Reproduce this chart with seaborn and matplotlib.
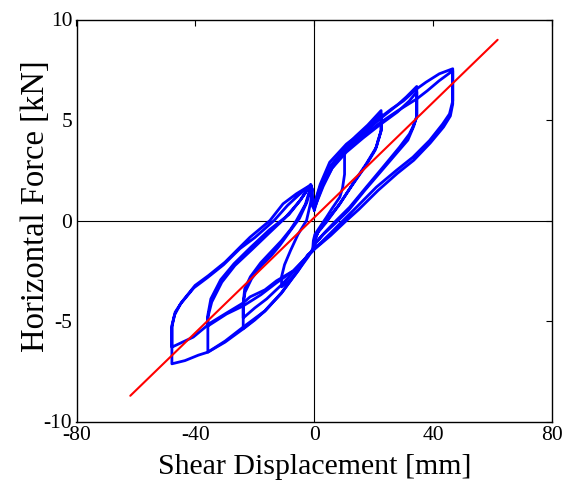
import matplotlib
matplotlib.use("Agg")
import matplotlib.pyplot as plt
import numpy as np
import pandas as pd
import seaborn as sns

# ---------------- data ----------------
x_ticks = [-80, -40, 0, 40, 80]
y_ticks = [-10, -5, 0, 5, 10]

# linear reference line (red)
red_x = [-61.9, 61.7]
red_y = [-8.72, 8.99]

# hysteresis loops (blue), one list per amplitude
loop12_x = [0, 2, 4, 6, 8, 10.2, 10.2, 9.5, 8.6, 6, 4.1, 2, 0.2, -0.3, -0.5,
            -2, -4, -6.5, -9, -11, -11, -10, -8, -5.5, -2.6, -1.2, -0.7, -0.5, 0]
loop12_y = [0.5, 1.5, 2.2, 2.7, 3.1, 3.5, 2.3, 1.6, 1.16, 0.6, 0.16, -0.3, -0.7, -1.0, -1.4,
            -1.8, -2.2, -2.7, -3.05, -3.3, -2.8, -2.2, -1.5, -0.7, 0.0, 0.9, 1.6, 0.8, 0.5]

loop23_x = [0, 2, 4, 7, 10.8, 14, 18, 22.5, 22.5, 21.5, 20.9, 17.5, 13, 8.6, 4.1, 1.5, 0, -0.5,
            -2.1, -5.4, -11, -16.6, -20, -23.9, -23.9, -23.3, -21.1, -17.7, -14.4, -11.6, -8, -5,
            -2.5, -1, -0.6,
            0, 3, 6, 9, 13, 17, 20, 22.5, 22.5, 21.8, 20.5, 17, 12.5, 8, 4, 1.2, 0, -0.5,
            -2.5, -6, -11, -16, -20, -23.9, -23.9, -23.4, -21.5, -18, -14.5, -11, -8, -6, -3,
            -1, -0.6]
loop23_y = [0.7, 1.5, 2.2, 3.0, 3.7, 4.2, 4.75, 5.47, 4.45, 4.0, 3.65, 2.82, 1.83, 0.83, 0.0, -0.5,
            -1.0, -1.5, -1.75, -2.5, -3.6, -4.5, -4.95, -5.39, -4.15, -3.57, -2.9, -2.24, -1.74,
            -1.24, -0.5, 0.1, 0.9, 1.7, 0.7,
            0.6, 1.7, 2.6, 3.2, 3.9, 4.45, 4.9, 5.3, 4.5, 4.1, 3.5, 2.65, 1.7, 0.7, -0.1, -0.6,
            -1.1, -1.5, -1.8, -2.4, -3.2, -3.9, -4.35, -4.85, -4.1, -3.4, -2.8, -2.1, -1.55, -1.0,
            -0.45, 0.0, 0.8, 1.75, 0.8]

loop35_x = [0, 2, 5.2, 10.8, 16.4, 22.5, 28, 31, 34.5, 34.5, 33, 32, 28.7, 23.1, 17.5, 11.9, 7.4,
            3.5, 0.5, -0.5, -2.1, -5.4, -11, -16.6, -23.9, -30, -35.8, -35.8, -34.5, -31.1, -26.7,
            -21, -15, -10, -5, -1.2, -0.6,
            0, 3, 6, 10.8, 16.4, 22, 28, 32, 34.5, 34.5, 33.5, 31.5, 28, 22.5, 17, 11.5, 7, 3, 0.3,
            -0.5, -3, -7, -12.7, -18, -23.9, -29.5, -35.8, -35.8, -34.8, -31.5, -27, -21.5, -15,
            -8.5, -4.5, -1.2, -0.6]
loop35_y = [0.8, 1.7, 2.7, 3.6, 4.3, 5.1, 5.75, 6.15, 6.67, 5.14, 4.6, 4.3, 3.65, 2.65, 1.66, 0.66,
            0.0, -0.6, -1.1, -1.5, -1.7, -2.45, -3.6, -4.5, -5.39, -6.05, -6.55, -4.81, -4.06,
            -3.07, -2.24, -1.45, -0.6, 0.1, 0.95, 1.75, 0.8,
            0.6, 1.8, 2.6, 3.4, 4.1, 4.75, 5.4, 5.95, 6.4, 5.2, 4.7, 4.0, 3.4, 2.45, 1.5, 0.5,
            -0.15, -0.7, -1.15, -1.5, -1.9, -2.5, -3.1, -3.7, -4.25, -4.65, -5.25, -4.7, -3.9,
            -2.95, -2.15, -1.35, -0.45, 0.3, 1.05, 1.8, 0.8]

loop47_x = [0, 2, 5.2, 10.8, 16.4, 22, 26, 30, 34.5, 37.6, 42.1, 46.6, 46.6, 45.5, 43.2, 38.8,
            33.2, 27.6, 20.9, 14.2, 9.7, 5, 1.5, -0.5, -2.1, -5.4, -11, -16.6, -23.9, -30, -35.8,
            -39, -43.5, -47.9, -47.9, -46.8, -44.6, -40.1, -35.6, -30, -24.4, -21.6, -14.9, -10.5,
            -6, -1.5, -0.6,
            0, 2, 5.2, 10.8, 16.4, 22, 28, 34.5, 38, 42, 46.6, 46.6, 45.8, 43.5, 39, 33.5, 28,
            21.5, 15, 10.5, 5.5, 1.5, -0.5, -3.8, -7, -12.7, -16.6, -21.6, -23.9, -29.5, -35,
            -40.7, -47.9, -47.9, -47, -45, -40.5, -36, -30.5, -25, -20, -13.5, -9, -5, -1.2, -0.6]
loop47_y = [0.8, 1.8, 2.9, 3.8, 4.45, 5.1, 5.55, 5.95, 6.55, 6.88, 7.3, 7.55, 5.95, 5.3, 4.8, 3.98,
            3.15, 2.49, 1.66, 0.66, 0.0, -0.7, -1.2, -1.5, -1.7, -2.45, -3.6, -4.5, -5.3, -6.0,
            -6.55, -6.7, -6.97, -7.13, -5.22, -4.56, -4.06, -3.23, -2.74, -2.07, -1.24, -0.83,
            0.0, 0.83, 1.33, 1.74, 0.8,
            0.7, 1.6, 2.6, 3.5, 4.2, 4.85, 5.45, 6.05, 6.45, 6.95, 7.45, 5.8, 5.2, 4.65, 3.85,
            3.0, 2.35, 1.5, 0.55, -0.05, -0.75, -1.25, -1.5, -2.0, -2.5, -3.0, -3.45, -3.8, -4.1,
            -4.6, -5.1, -5.8, -6.3, -5.3, -4.7, -4.15, -3.35, -2.85, -2.2, -1.4, -0.85, 0.0, 0.75,
            1.3, 1.75, 0.8]

# ---------------- build table ----------------
frames = []
for name, xs, ys in [("12", loop12_x, loop12_y), ("23", loop23_x, loop23_y),
                     ("35", loop35_x, loop35_y), ("47", loop47_x, loop47_y)]:
    frames.append(pd.DataFrame({"x": xs, "y": ys, "loop": name,
                                "order": np.arange(len(xs))}))
df = pd.concat(frames, ignore_index=True)
red_df = pd.DataFrame({"x": red_x, "y": red_y})

# ---------------- plot ----------------
sns.set_theme(style="white")
plt.rcParams["font.family"] = ["Liberation Serif", "DejaVu Serif"]
plt.rcParams["axes.unicode_minus"] = False

W, H = 566, 483
fig = plt.figure(figsize=(W / 100, H / 100), dpi=100)
left, right, top, bottom = 76.5, 552, 19.5, 421.5
ax = fig.add_axes([left / W, 1 - bottom / H, (right - left) / W, (bottom - top) / H])

ax.axhline(0, color="black", lw=0.8, zorder=1)
ax.axvline(0, color="black", lw=0.8, zorder=1)

sns.lineplot(data=df, x="x", y="y", units="loop", estimator=None, sort=False,
             color="#0000ff", lw=2.0, ax=ax, legend=False, zorder=2)
sns.lineplot(data=red_df, x="x", y="y", estimator=None, sort=False,
             color="#ff0000", lw=1.5, ax=ax, legend=False, zorder=3)

ax.set_xlim(-80, 80)
ax.set_ylim(-10, 10)
ax.set_xticks(x_ticks)
ax.set_yticks(y_ticks)
ax.set_xticklabels([str(t) for t in x_ticks])
ax.set_yticklabels([str(t) for t in y_ticks])
ax.tick_params(direction="in", top=True, right=True, length=4, width=0.8,
               labelsize=15.5, colors="black", pad=3)
for s in ax.spines.values():
    s.set_color("black")
    s.set_linewidth(1.0)
    s.set_visible(True)

ax.set_xlabel("Shear Displacement [mm]", fontsize=21.5, color="black", labelpad=6.5)
ax.set_ylabel("Horizontal Force [kN]", fontsize=23.5, color="black")
ax.yaxis.set_label_coords(-0.053, 0.535)
ax.grid(False)

fig.savefig("out.png", dpi=100)
